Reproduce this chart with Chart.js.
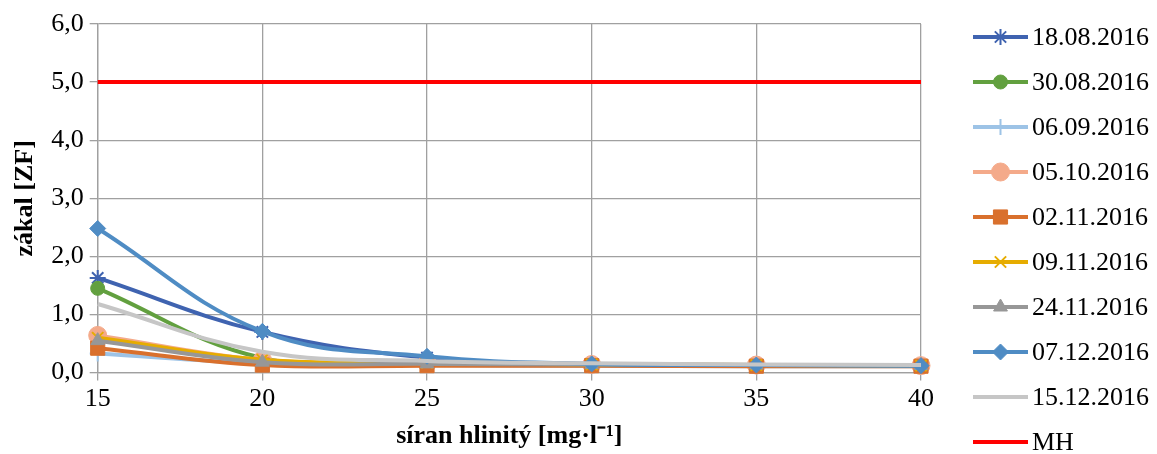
<!DOCTYPE html>
<html>
<head>
<meta charset="utf-8">
<script src="https://cdn.jsdelivr.net/npm/chart.js@4/dist/chart.umd.min.js"></script>
<style>
  html, body { margin: 0; padding: 0; background: #fff; }
  #wrap { width: 1157px; height: 454px; }
</style>
</head>
<body>
<div id="wrap"><canvas id="c" width="1157" height="454"></canvas></div>
<script>
// dávka síranu hlinitého [mg/l]
const doses = [15, 20, 25, 30, 35, 40];
const yTicks = [0, 1, 2, 3, 4, 5, 6];

const s1808 = [1.63, 0.70, 0.26, 0.15, 0.13, 0.12];
const s3008 = [1.45, 0.25, 0.16, 0.14, 0.13, 0.12];
const s0609 = [0.33, 0.16, 0.13, 0.12, 0.11, 0.11];
const s0510 = [0.64, 0.22, 0.16, 0.14, 0.13, 0.12];
const s0211 = [0.42, 0.13, 0.12, 0.12, 0.11, 0.11];
const s0911 = [0.60, 0.22, 0.17, 0.14, 0.13, 0.12];
const s2411 = [0.55, 0.18, 0.15, 0.14, 0.13, 0.12];
const s0712 = [2.48, 0.71, 0.28, 0.15, 0.13, 0.12];
const s1512 = [1.18, 0.36, 0.20, 0.16, 0.14, 0.13];
const mh    = [5, 5, 5, 5, 5, 5];

const series = [
  { label: "18.08.2016", data: s1808, color: "#3F63B0", style: "star", r: 8 },
  { label: "30.08.2016", data: s3008, color: "#62A03F", style: "circle", r: 7 },
  { label: "06.09.2016", data: s0609, color: "#9DC3E6", style: "cross", r: 8 },
  { label: "05.10.2016", data: s0510, color: "#F4AA8A", style: "circle", r: 9 },
  { label: "02.11.2016", data: s0211, color: "#D9702D", style: "rect", r: 10 },
  { label: "09.11.2016", data: s0911, color: "#E6AC00", style: "crossRot", r: 8 },
  { label: "24.11.2016", data: s2411, color: "#979797", style: "triangle", r: 8 },
  { label: "07.12.2016", data: s0712, color: "#4F8CC4", style: "rectRot", r: 8 },
  { label: "15.12.2016", data: s1512, color: "#C6C6C6", style: false, r: 0 },
  { label: "MH", data: mh, color: "#FF0000", style: false, r: 0 },
];

const FONT = "'Liberation Serif', 'Times New Roman', serif";
const FS = 26;
const thinMark = (st) => st === "star" || st === "cross" || st === "crossRot";

const datasets = series.map((s, i) => ({
  label: s.label,
  data: s.data.map((v, k) => ({ x: doses[k], y: v })),
  borderColor: s.color,
  backgroundColor: s.color,
  borderWidth: 4,
  pointStyle: s.style,
  pointRadius: s.r,
  pointBorderWidth: thinMark(s.style) ? 2 : 1,
  pointBorderColor: s.color,
  pointBackgroundColor: s.color,
  tension: s.label === "MH" ? 0 : 0.4,
  clip: false,
  order: series.length - i,
}));

// legend drawn by hand: line + marker, like the spreadsheet one
const sideLegend = {
  id: "sideLegend",
  afterDraw(chart) {
    const ctx = chart.ctx;
    ctx.save();
    series.forEach((s, i) => {
      const y = 37 + i * 45;
      ctx.strokeStyle = s.color;
      ctx.lineWidth = 4;
      ctx.beginPath();
      ctx.moveTo(973, y);
      ctx.lineTo(1028, y);
      ctx.stroke();
      if (s.style) {
        ctx.fillStyle = s.color;
        ctx.strokeStyle = s.color;
        ctx.lineWidth = thinMark(s.style) ? 2 : 1;
        Chart.helpers.drawPoint(ctx, { pointStyle: s.style, radius: s.r, rotation: 0, borderWidth: ctx.lineWidth }, 1000.5, y);
      }
      ctx.fillStyle = "#000";
      ctx.font = FS + "px " + FONT;
      ctx.textBaseline = "middle";
      ctx.fillText(s.label, 1032, y + 1);
    });
    ctx.restore();
  }
};

new Chart(document.getElementById("c"), {
  type: "line",
  data: { datasets },
  options: {
    responsive: false,
    animation: false,
    layout: { padding: { left: 10, right: 236, top: 24, bottom: 2 } },
    plugins: {
      legend: { display: false },
      tooltip: { enabled: false },
    },
    scales: {
      x: {
        type: "linear",
        min: 15,
        max: 40,
        afterBuildTicks: (axis) => { axis.ticks = doses.map((v) => ({ value: v })); },
        grid: { color: "#A0A0A0", lineWidth: 1.3, tickLength: 8 },
        border: { color: "#A0A0A0", width: 1.3 },
        ticks: { color: "#000", font: { family: FONT, size: FS }, padding: 3 },
        title: {
          display: true,
          text: "síran hlinitý [mg·l⁻¹]",
          color: "#000",
          font: { family: FONT, size: FS, weight: "bold" },
          padding: { top: 3, bottom: 0 },
        },
      },
      y: {
        min: 0,
        max: 6,
        afterBuildTicks: (axis) => { axis.ticks = yTicks.map((v) => ({ value: v })); },
        grid: { color: "#A0A0A0", lineWidth: 1.3, tickLength: 8 },
        border: { color: "#A0A0A0", width: 1.3 },
        ticks: {
          color: "#000",
          font: { family: FONT, size: FS },
          padding: 6,
          callback: (v) => v.toFixed(1).replace(".", ","),
        },
        title: {
          display: true,
          text: "zákal [ZF]",
          color: "#000",
          font: { family: FONT, size: FS, weight: "bold" },
          padding: { top: 0, bottom: 4 },
        },
      },
    },
  },
  plugins: [sideLegend],
});
</script>
</body>
</html>
